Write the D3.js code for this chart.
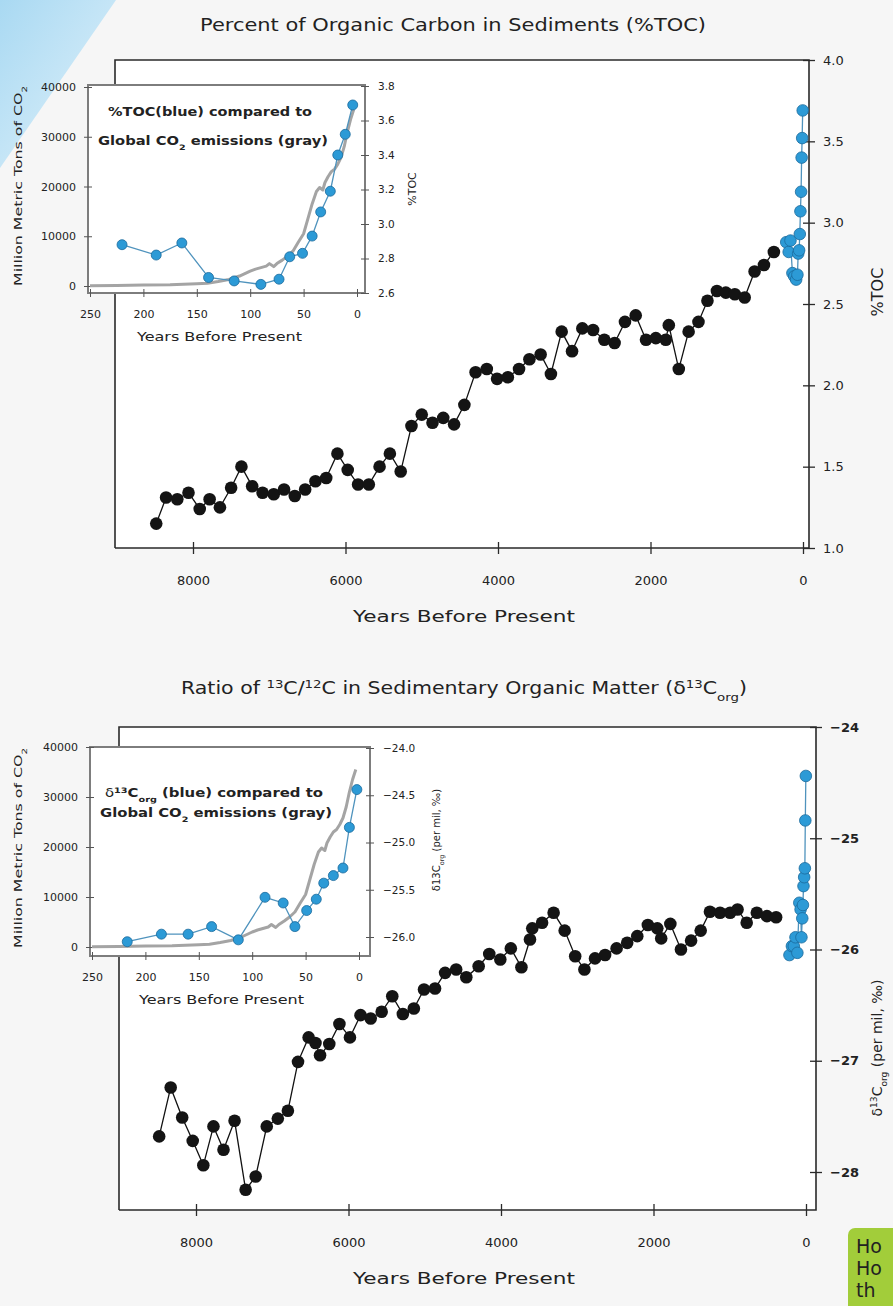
<!DOCTYPE html>
<html><head><meta charset="utf-8">
<script src="https://cdn.jsdelivr.net/npm/d3@7"></script>
<style>
html,body{margin:0;padding:0;background:#f6f6f6;}
svg{display:block;}
text{font-family:"DejaVu Sans",sans-serif;fill:#222;}
</style></head><body>
<svg id="chart" width="893" height="1306"></svg>
<script>
// ---------------- DATA ----------------
const mainYearTicks = [8000, 6000, 4000, 2000, 0];
const tocTicks = [1.0, 1.5, 2.0, 2.5, 3.0, 3.5, 4.0];
const d13Ticks = [-28, -27, -26, -25, -24];
const insetYearTicks = [250, 200, 150, 100, 50, 0];
const co2Ticks = [0, 10000, 20000, 30000, 40000];
const insetTocTicks = [2.6, 2.8, 3.0, 3.2, 3.4, 3.6, 3.8];
const insetD13Ticks = [-26.0, -25.5, -25.0, -24.5, -24.0];

// Sediment core %TOC (black)
const tocYears = [8482,8353,8206,8059,7912,7782,7647,7500,7365,7224,7088,6941,6806,6665,6529,6394,6253,6106,5971,5835,5694,5553,5418,5276,5135,5000,4859,4718,4576,4441,4294,4147,4012,3871,3724,3588,3441,3306,3165,3029,2894,2753,2606,2471,2335,2194,2059,1930,1800,1760,1629,1500,1371,1253,1129,1012,894,765,635,512,382];
const tocValues = [1.15,1.31,1.30,1.34,1.24,1.30,1.25,1.37,1.50,1.38,1.34,1.33,1.36,1.32,1.36,1.41,1.43,1.58,1.48,1.39,1.39,1.50,1.58,1.47,1.75,1.82,1.77,1.80,1.76,1.88,2.08,2.10,2.04,2.05,2.10,2.16,2.19,2.07,2.33,2.21,2.35,2.34,2.28,2.26,2.39,2.43,2.28,2.29,2.28,2.37,2.10,2.33,2.39,2.52,2.58,2.57,2.56,2.54,2.70,2.74,2.82];

// Recent %TOC (blue)
const tocRecentYears = [220,188,164,139,115,90,73,63,51,42,34,25,18,11,4];
const tocRecentValues = [2.88,2.82,2.89,2.69,2.67,2.65,2.68,2.81,2.83,2.93,3.07,3.19,3.40,3.52,3.69];

// Sediment core d13C org (black)
const d13Years = [8483,8332,8181,8043,7904,7771,7639,7494,7349,7217,7072,6927,6795,6662,6523,6433,6373,6252,6119,5981,5842,5709,5565,5426,5287,5143,5010,4865,4733,4588,4455,4293,4154,4009,3871,3732,3620,3590,3461,3310,3165,3027,2906,2767,2635,2484,2345,2213,2074,1950,1899,1779,1640,1507,1381,1260,1127,995,898,778,645,512,392];
const d13Values = [-27.68,-27.24,-27.51,-27.72,-27.94,-27.59,-27.80,-27.54,-28.16,-28.04,-27.59,-27.52,-27.45,-27.01,-26.79,-26.84,-26.95,-26.85,-26.67,-26.79,-26.59,-26.62,-26.56,-26.42,-26.58,-26.53,-26.36,-26.35,-26.21,-26.18,-26.25,-26.15,-26.04,-26.09,-25.99,-26.16,-25.91,-25.81,-25.76,-25.67,-25.83,-26.06,-26.18,-26.08,-26.05,-25.99,-25.94,-25.88,-25.78,-25.81,-25.90,-25.77,-26.00,-25.92,-25.83,-25.66,-25.67,-25.67,-25.64,-25.76,-25.67,-25.70,-25.71];

// Recent d13C org (blue)
const d13RecentYears = [217,185,160,138,113,88,71,60,49,40,33,24,15,9,2];
const d13RecentValues = [-26.05,-25.97,-25.97,-25.89,-26.03,-25.58,-25.64,-25.89,-25.72,-25.60,-25.43,-25.35,-25.27,-24.84,-24.44];

// Global CO2 emissions (gray), million metric tons
const co2Years = [250,225,200,175,150,140,130,120,110,100,95,90,85,82,78,75,70,65,60,55,50,46,42,38,35,32,30,27,24,21,18,15,12,9,6,3];
const co2Values = [50,100,180,250,450,560,900,1300,2000,3000,3400,3700,4000,4500,3900,4500,5200,6000,7000,8800,10500,13500,16500,19000,19800,19300,20800,22000,23000,23500,24500,25800,28000,31000,33500,35500];

// ---------------- DRAWING ----------------
const svg = d3.select("#chart");
svg.append("rect").attr("width", 893).attr("height", 1306).attr("fill", "#f6f6f6");

const defs = svg.append("defs");
const grad = defs.append("linearGradient").attr("id", "deco").attr("x1", "0").attr("y1", "0").attr("x2", "1").attr("y2", "1");
grad.append("stop").attr("offset", "0%").attr("stop-color", "#a9d9f2");
grad.append("stop").attr("offset", "100%").attr("stop-color", "#e2f2fb");
svg.append("path").attr("d", "M0,0 L116,0 L0,168 Z").attr("fill", "url(#deco)");

const BLUE = "#2c9ad6", BLUE_STROKE = "#1a6a9c", BLUE_LINE = "#4f93bd";
const zip = (a, b) => a.map((v, i) => [v, b[i]]);

function richText(g, parts, attrs) {
  const t = g.append("text");
  Object.entries(attrs).forEach(([k, v]) => t.attr(k, v));
  parts.forEach(p => {
    const s = t.append("tspan").text(p.t);
    if (p.sup) s.attr("baseline-shift", "super").attr("font-size", "65%");
    if (p.sub) s.attr("baseline-shift", "sub").attr("font-size", "65%");
    if (p.w) s.attr("font-weight", p.w);
  });
  return t;
}

function drawMain(p) {
  const g = svg.append("g");
  const x = d3.scaleLinear().domain([8000, 0]).range(p.xRange);
  const y = d3.scaleLinear().domain(p.yDomain).range(p.yRange);
  g.append("rect").attr("x", p.l).attr("y", p.t).attr("width", p.r - p.l).attr("height", p.b - p.t).attr("fill", "#fff");
  g.append("path").attr("d", `M${p.l},${p.b}V${p.t}H${p.r}V${p.b}H${p.l}`)
    .attr("fill", "none").attr("stroke", "#2a2a2a").attr("stroke-width", 1.6);

  const xa = g.append("g").attr("transform", `translate(0,${p.b})`)
    .call(d3.axisBottom(x).tickValues(mainYearTicks).tickSize(6).tickPadding(22).tickFormat(d3.format("d")));
  xa.select(".domain").remove();
  xa.selectAll(".tick line").attr("y1", -6).attr("y2", 6).attr("stroke", "#2a2a2a").attr("stroke-width", 1.3);
  xa.selectAll(".tick text").attr("font-size", 13).attr("fill", "#2a2a2a").attr("font-family", "DejaVu Sans");

  const ya = g.append("g").attr("transform", `translate(${p.r},0)`)
    .call(d3.axisRight(y).tickValues(p.yTicks).tickSize(6).tickPadding(8).tickFormat(p.yFormat));
  ya.select(".domain").remove();
  ya.selectAll(".tick line").attr("x1", -6).attr("x2", 6).attr("stroke", "#2a2a2a").attr("stroke-width", 1.3);
  ya.selectAll(".tick text").attr("font-size", 13).attr("fill", "#2a2a2a").attr("font-family", "DejaVu Sans").attr("font-weight", p.yWeight || "normal");

  const line = d3.line().x(d => x(d[0])).y(d => y(d[1]));
  const black = zip(p.years, p.values);
  g.append("path").datum(black).attr("d", line).attr("fill", "none").attr("stroke", "#111").attr("stroke-width", 1.3);
  g.selectAll(".bd").data(black).join("circle").attr("cx", d => x(d[0])).attr("cy", d => y(d[1])).attr("r", 6.3).attr("fill", "#141414");

  const blue = zip(p.bYears, p.bValues);
  g.append("path").datum(blue).attr("d", line).attr("fill", "none").attr("stroke", BLUE_LINE).attr("stroke-width", 1.3);
  g.selectAll(".bl").data(blue).join("circle").attr("cx", d => x(d[0])).attr("cy", d => y(d[1])).attr("r", 5.8)
    .attr("fill", BLUE).attr("stroke", BLUE_STROKE).attr("stroke-width", 0.8);

  g.append("text").attr("x", p.xTitleX).attr("y", p.b + 74).attr("text-anchor", "middle").attr("font-size", 16)
    .attr("textLength", 222).attr("lengthAdjust", "spacingAndGlyphs").text("Years Before Present");
  return g;
}

function drawInset(p) {
  const g = svg.append("g");
  const x = d3.scaleLinear().domain([250, 0]).range(p.xRange);
  const yl = d3.scaleLinear().domain([0, 40000]).range(p.ylRange);
  const yr = d3.scaleLinear().domain(p.yrDomain).range(p.yrRange);
  g.append("rect").attr("x", p.l).attr("y", p.t).attr("width", p.r - p.l).attr("height", p.b - p.t)
    .attr("fill", "#fff").attr("stroke", "#7d7d7d").attr("stroke-width", 2);

  const xa = g.append("g").attr("transform", `translate(0,${p.b})`)
    .call(d3.axisBottom(x).tickValues(insetYearTicks).tickSize(4).tickPadding(13).tickFormat(d3.format("d")));
  xa.select(".domain").remove();
  xa.selectAll(".tick line").attr("y1", -4).attr("y2", 4).attr("stroke", "#555");
  xa.selectAll(".tick text").attr("font-size", 11).attr("fill", "#333").attr("font-family", "DejaVu Sans");

  const ylA = g.append("g").attr("transform", `translate(${p.l},0)`)
    .call(d3.axisLeft(yl).tickValues(co2Ticks).tickSize(4).tickPadding(p.lPad).tickFormat(d3.format("d")));
  ylA.select(".domain").remove();
  ylA.selectAll(".tick line").attr("x1", -4).attr("x2", 4).attr("stroke", "#555");
  ylA.selectAll(".tick text").attr("font-size", 11).attr("fill", "#333").attr("font-family", "DejaVu Sans");

  const yrA = g.append("g").attr("transform", `translate(${p.r},0)`)
    .call(d3.axisRight(yr).tickValues(p.yrTicks).tickSize(4).tickPadding(9).tickFormat(d3.format(".1f")));
  yrA.select(".domain").remove();
  yrA.selectAll(".tick line").attr("x1", -4).attr("x2", 4).attr("stroke", "#555");
  yrA.selectAll(".tick text").attr("font-size", 10.5).attr("fill", "#333").attr("font-family", "DejaVu Sans");

  const co2 = zip(co2Years, co2Values);
  g.append("path").datum(co2).attr("d", d3.line().x(d => x(d[0])).y(d => yl(d[1])))
    .attr("fill", "none").attr("stroke", "#a4a4a4").attr("stroke-width", 3).attr("stroke-linejoin", "round");

  const blue = zip(p.bYears, p.bValues);
  g.append("path").datum(blue).attr("d", d3.line().x(d => x(d[0])).y(d => yr(d[1])))
    .attr("fill", "none").attr("stroke", BLUE_LINE).attr("stroke-width", 1.3);
  g.selectAll(".ib").data(blue).join("circle").attr("cx", d => x(d[0])).attr("cy", d => yr(d[1])).attr("r", 5)
    .attr("fill", BLUE).attr("stroke", BLUE_STROKE).attr("stroke-width", 0.8);

  richText(g, p.cap1, {x: p.capX1, y: p.capY1, "text-anchor": "middle", "font-size": 11.5, "font-weight": "bold", textLength: p.capLen1, lengthAdjust: "spacingAndGlyphs"});
  richText(g, [{t: "Global CO"}, {t: "2", sub: true}, {t: " emissions (gray)"}],
    {x: p.capX2, y: p.capY2, "text-anchor": "middle", "font-size": 11.5, "font-weight": "bold", textLength: p.capLen2, lengthAdjust: "spacingAndGlyphs"});

  g.append("text").attr("x", (p.xRange[0] + p.xRange[1]) / 2 - 4).attr("y", p.b + 48).attr("text-anchor", "middle")
    .attr("font-size", 11.5).attr("textLength", 165).attr("lengthAdjust", "spacingAndGlyphs").attr("fill", "#333").text("Years Before Present");

  richText(g, [{t: "Million Metric Tons of CO"}, {t: "2", sub: true}],
    {transform: `translate(22,${p.yTitleLeft}) rotate(-90)`, "text-anchor": "middle", "font-size": 11, textLength: 200, lengthAdjust: "spacingAndGlyphs", fill: "#333"});
  richText(g, p.rTitle, {transform: `translate(${p.rTitleX},${p.rTitleY}) rotate(-90)`, "text-anchor": "middle", "font-size": p.rTitleSize, fill: "#333"});
  return g;
}

// ---- Top panel ----
svg.append("text").attr("x", 453).attr("y", 31).attr("text-anchor", "middle").attr("font-size", 17)
  .attr("textLength", 506).attr("lengthAdjust", "spacingAndGlyphs").attr("fill", "#2a2a2a")
  .text("Percent of Organic Carbon in Sediments (%TOC)");

drawMain({
  l: 115, r: 809, t: 60, b: 548, xRange: [193, 803],
  yDomain: [1, 4], yRange: [548, 60], yTicks: tocTicks, yFormat: d3.format(".1f"),
  years: tocYears, values: tocValues, bYears: tocRecentYears, bValues: tocRecentValues, xTitleX: 464
});
svg.append("text").attr("transform", "translate(883,292) rotate(-90)").attr("text-anchor", "middle")
  .attr("font-size", 16).attr("fill", "#2a2a2a").text("%TOC");

drawInset({
  l: 88, r: 365, t: 85, b: 293, xRange: [90, 357], ylRange: [286, 87],
  yrDomain: [2.6, 3.8], yrRange: [293, 86], yrTicks: insetTocTicks, lPad: 8,
  bYears: tocRecentYears, bValues: tocRecentValues,
  cap1: [{t: "%TOC(blue) compared to"}], capX1: 210, capY1: 116, capLen1: 204,
  capX2: 213, capY2: 145, capLen2: 230,
  yTitleLeft: 186, rTitle: [{t: "%TOC"}], rTitleX: 416, rTitleY: 189, rTitleSize: 11
});

// ---- Bottom panel ----
richText(svg, [{t: "Ratio of "}, {t: "13", sup: true}, {t: "C/"}, {t: "12", sup: true}, {t: "C in Sedimentary Organic Matter (δ"}, {t: "13", sup: true}, {t: "C"}, {t: "org", sub: true}, {t: ")"}],
  {x: 464, y: 694, "text-anchor": "middle", "font-size": 17, textLength: 566, lengthAdjust: "spacingAndGlyphs", fill: "#2a2a2a"});

drawMain({
  l: 119, r: 816, t: 727, b: 1210, xRange: [196, 806],
  yDomain: [-28, -24], yRange: [1172, 727], yTicks: d13Ticks, yFormat: d3.format("d"), yWeight: "bold",
  years: d13Years, values: d13Values, bYears: d13RecentYears, bValues: d13RecentValues, xTitleX: 464
});
richText(svg, [{t: "δ"}, {t: "13", sup: true}, {t: "C"}, {t: "org", sub: true}, {t: "  (per mil, ‰)"}],
  {transform: "translate(882,1048) rotate(-90)", "text-anchor": "middle", "font-size": 14, fill: "#2a2a2a"});

drawInset({
  l: 90, r: 370, t: 747, b: 956, xRange: [92, 359], ylRange: [947, 747],
  yrDomain: [-26, -24], yrRange: [937, 748], yrTicks: insetD13Ticks, lPad: 8,
  bYears: d13RecentYears, bValues: d13RecentValues,
  cap1: [{t: "δ", w: "normal"}, {t: "13", sup: true}, {t: "C"}, {t: "org", sub: true}, {t: " (blue) compared to"}], capX1: 214, capY1: 797, capLen1: 218,
  capX2: 216, capY2: 817, capLen2: 232,
  yTitleLeft: 848,
  rTitle: [{t: "δ13C"}, {t: "org", sub: true}, {t: " (per mil, ‰)"}], rTitleX: 440, rTitleY: 840, rTitleSize: 10
});

// ---- Green note box (cropped at page edge) ----
const note = svg.append("g");
note.append("rect").attr("x", 848).attr("y", 1228).attr("width", 80).attr("height", 100).attr("rx", 7).attr("fill", "#a2cd3a");
["Ho", "Ho", "th"].forEach((s, i) => {
  note.append("text").attr("x", 856).attr("y", 1253 + i * 22).attr("font-size", 19)
    .attr("font-family", "Liberation Sans, Arial, sans-serif").attr("fill", "#1d1d1d").text(s);
});
</script>
</body></html>
